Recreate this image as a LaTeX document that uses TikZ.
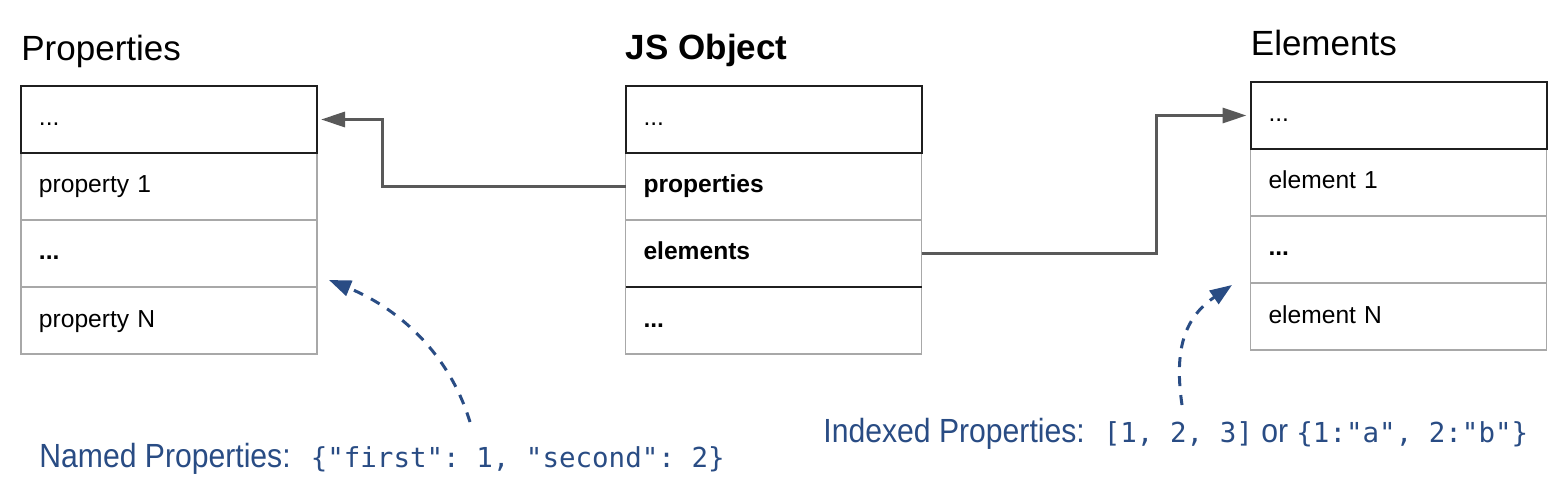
\documentclass[tikz,border=0pt]{standalone}
\usepackage{fontspec}
\setmainfont{Liberation Sans}
\setmonofont{DejaVu Sans Mono}
\newfontfamily\notefont[FakeStretch=0.9]{Liberation Sans}
\usetikzlibrary{positioning,arrows.meta}
\definecolor{cellgray}{HTML}{A8A8A8}
\definecolor{linkgray}{HTML}{595959}
\definecolor{noteblue}{HTML}{294C84}
\newcommand\jscode[1]{{\ttfamily\fontsize{13.75}{16}\selectfont #1}}

\tikzset{
  cell/.style={rectangle, draw=cellgray, line width=0.8pt, minimum width=148pt, minimum height=33.5pt,
    text width=130pt, inner xsep=9pt, inner ysep=0pt, outer sep=0pt, align=left,
    text height=8pt, text depth=1.5pt, font=\fontsize{12.3}{14}\selectfont},
  headcell/.style={cell, draw=black!88, line width=1pt},
  title/.style={anchor=base west, inner sep=0pt, font=\fontsize{17.5}{20}\selectfont},
  link/.style={draw=linkgray, line width=1.5pt, -{Triangle[length=12pt,width=7.5pt]}, shorten >=2pt},
  hint/.style={draw=noteblue, line width=1.5pt, dash pattern=on 5pt off 4.5pt, -{Triangle[length=11pt,width=8pt]}},
  note/.style={anchor=base west, inner sep=0pt, text=noteblue, font=\notefont\fontsize{16.75}{20}\selectfont}
}

\begin{document}
\begin{tikzpicture}[x=0.5pt,y=-0.5pt]
    \useasboundingbox (0,0) rectangle (1568,502);

    \node[cell] (p_1) at (169,186.5) {property 1};
    \node[headcell] (p_0) [above=0pt of p_1] {...};
    \node[cell] (p_2) [below=0pt of p_1] {\textbf{...}};
    \node[cell] (p_3) [below=0pt of p_2] {property N};
    \node[title] (props) at ([yshift=12.5pt]p_0.north west) {Properties};

    \node[cell] (o_1) at (773.5,186.5) {\textbf{properties}};
    \node[headcell] (o_0) [above=0pt of o_1] {...};
    \node[cell] (o_2) [below=0pt of o_1] {\textbf{elements}};
    \node[cell] (o_3) [below=0pt of o_2] {\textbf{...}};
    \draw[black!88, line width=1pt] (o_3.north west) -- (o_3.north east);
    \node[title] (obj) at ([yshift=13pt]o_0.north west) {\textbf{JS Object}};

    \node[cell] (e_1) at (1398.5,182.5) {element 1};
    \node[headcell] (e_0) [above=0pt of e_1] {...};
    \node[cell] (e_2) [below=0pt of e_1] {\textbf{...}};
    \node[cell] (e_3) [below=0pt of e_2] {element N};
    \node[title] (elems) at ([yshift=13pt]e_0.north west) {Elements};

    \draw[link] (o_1.west) -- ++(-243,0) |- (p_0.east);
    \draw[link] (o_2.east) -- ++(235,0) |- (e_0.west);

    \node[note] (named) at (39,467) {Named Properties:\hspace{10pt}\jscode{\{"first": 1, "second": 2\}}};
    \node[note] (indexed) at (823,442) {Indexed Properties:\hspace{9.5pt}\jscode{[1, 2, 3]} or \jscode{\{1:"a", 2:"b"\}}};

    \coordinate (named_from) at (470,422);
    \coordinate (named_to) at (329,280);
    \coordinate (indexed_from) at (1182,405);
    \coordinate (indexed_to) at (1232,285);
    \draw[hint] (named_from) .. controls (448,350) and (395,307) .. (named_to);
    \draw[hint] (indexed_from) .. controls (1174,350) and (1184,318) .. (indexed_to);
\end{tikzpicture}
\end{document}
